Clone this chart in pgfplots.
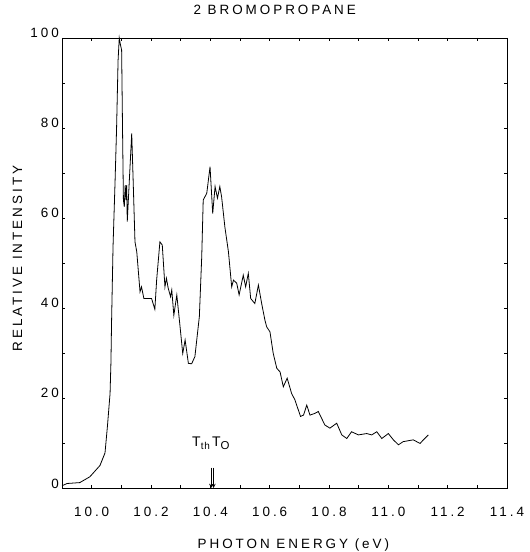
\documentclass[border=0pt]{standalone}
\usepackage{pgfplots}
\pgfplotsset{compat=1.18}
\usepackage{fontspec}
\newfontfamily\lab{Liberation Sans}[LetterSpace=22]
\newfontfamily\labt{Liberation Sans}[LetterSpace=8]
\begin{document}
\begin{tikzpicture}
\begin{axis}[
  scale only axis,
  width=445bp, height=450bp,
  xmin=9.9, xmax=11.4, ymin=0, ymax=100,
  xtick={10.0,10.2,...,11.4},
  minor xtick={9.9,10.1,10.3,10.5,10.7,10.9,11.1,11.3},
  ytick={0,20,...,100},
  minor ytick={10,30,50,70,90},
  tick align=inside,
  major tick length=3bp, minor tick length=3bp,
  axis line style={line width=0.6pt},
  every tick/.style={black, line width=0.6pt},
  /pgf/number format/assume math mode=true,
  xticklabel={\pgfmathprintnumber[fixed,fixed zerofill,precision=1]{\tick}},
  yticklabel={\pgfmathprintnumber[fixed,precision=0]{\tick}},
  ticklabel style={font=\lab\fontsize{13.5}{16}\selectfont},
  xticklabel style={anchor=center, yshift=-23.5bp},
  yticklabel style={anchor=base east, inner sep=0pt, xshift=-3bp},
  title={2 BROMOPROPANE},
  title style={font=\lab\fontsize{13.5}{16}\selectfont, at={(rel axis cs:0.478,1)}, anchor=center, yshift=22bp},
  xlabel={PHOTON ENERGY (eV)},
  xlabel style={font=\lab\fontsize{13.5}{16}\selectfont, at={(rel axis cs:0.52,0)}, anchor=center, yshift=-57bp},
  ylabel={RELATIVE INTENSITY},
  ylabel style={font=\lab\fontsize{13.5}{16}\selectfont, at={(rel axis cs:0,0.51)}, anchor=center, yshift=44.5bp},
  clip=false,
]
\addplot[black, line width=0.8pt] coordinates {
(9.900,0.5) (9.917,1.0) (9.960,1.2) (9.994,2.5) (10.028,5.0) (10.045,7.8)
(10.053,13.6) (10.062,21) (10.065,28) (10.067,36.6) (10.072,53.6) (10.079,68.4)
(10.084,80) (10.089,95) (10.093,100) (10.097,98.5) (10.101,97.3) (10.104,80) (10.107,64)
(10.110,62.5) (10.113,67.3) (10.116,64) (10.118,67.3) (10.120,59.2)
(10.127,68.4) (10.135,78.8) (10.140,68) (10.146,54.7) (10.152,52.5)
(10.163,43.6) (10.168,44.7) (10.176,42.1) (10.202,42.1) (10.213,39.7)
(10.219,46.2) (10.230,54.7) (10.238,54) (10.247,44.7) (10.252,46.6)
(10.258,44.4) (10.266,42.5) (10.270,44) (10.277,38.4) (10.287,42.9)
(10.298,35.8) (10.307,29.9) (10.315,32.9) (10.326,27.7) (10.337,27.6)
(10.348,29.2) (10.363,38.1) (10.371,51.4) (10.376,64) (10.388,65.5)
(10.399,71.4) (10.408,61) (10.416,67) (10.424,64.4) (10.432,67)
(10.438,64.7) (10.449,58) (10.461,52.5) (10.472,44.7) (10.478,46.2)
(10.489,45.5) (10.497,42.9) (10.511,47.3) (10.519,44.7) (10.528,47.7)
(10.536,42.1) (10.550,41) (10.562,45.1) (10.573,41) (10.584,37.3)
(10.590,35.8) (10.601,34.7) (10.612,29.9) (10.624,26.6) (10.635,25.8)
(10.646,22.5) (10.659,24.4) (10.674,21) (10.685,19.6) (10.704,15.9)
(10.714,16.2) (10.725,18.4) (10.736,16.2) (10.753,16.6) (10.764,17)
(10.775,15.5) (10.786,14) (10.803,13.3) (10.826,14.4) (10.843,11.8)
(10.860,11) (10.876,12.5) (10.899,11.8) (10.927,12.1) (10.944,11.8)
(10.961,12.5) (10.978,11) (11.000,12.1) (11.017,10.7) (11.034,9.6)
(11.050,10.3) (11.084,10.7) (11.107,9.9) (11.118,10.7) (11.135,11.8)
};
\addplot[black, line width=0.9pt, -stealth] coordinates {(10.403,4.5) (10.403,0)};
\addplot[black, line width=0.9pt, -stealth] coordinates {(10.411,4.5) (10.411,0)};
\node[font=\labt\fontsize{14}{16}\selectfont, anchor=base] at (axis cs:10.402,9.3) {T\raisebox{-0.45ex}{\fontsize{10}{11}\selectfont th}\,T\raisebox{-0.45ex}{\fontsize{11.5}{12}\selectfont O}};
\end{axis}
\pgfresetboundingbox
\path[use as bounding box] ([shift={(-62bp,-64bp)}]current axis.south west) rectangle ([shift={(23bp,38bp)}]current axis.north east);
\end{tikzpicture}
\end{document}
